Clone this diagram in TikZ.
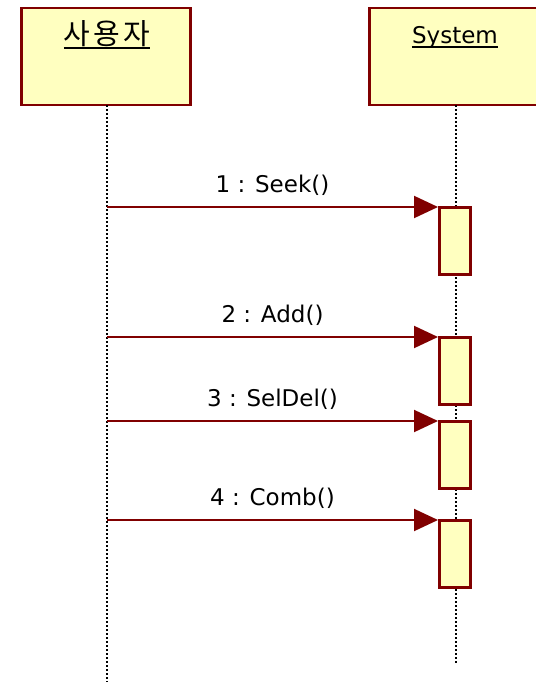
\documentclass[tikz,border=0pt]{standalone}
\usepackage{fontspec}
\setmainfont{DejaVu Sans}
\newfontfamily\krfont{Noto Sans CJK KR}
\usepackage{tikz}
\usetikzlibrary{positioning}
\usetikzlibrary{arrows.meta}
\definecolor{umlred}{RGB}{128,0,0}
\definecolor{umlfill}{RGB}{255,255,192}

\begin{document}
\begin{tikzpicture}[x=1pt,y=-1pt,line join=miter,
  objbox/.style={draw=umlred,fill=umlfill,line width=2.5pt,minimum width=169pt,minimum height=97pt,inner sep=0pt},
  actbox/.style={draw=umlred,fill=umlfill,line width=2.5pt,minimum width=31pt,minimum height=67pt,inner sep=0pt},
  objlabel/.style={font=\fontsize{23}{27}\selectfont,anchor=base,inner sep=0pt},
  lifeline/.style={line width=2pt,dash pattern=on 2pt off 2pt},
  msg/.style={color=umlred,line width=2pt,-{Triangle[length=24pt,width=22pt]}},
  msglabel/.style={font=\fontsize{23}{27}\selectfont,anchor=base,inner sep=0pt}]
\useasboundingbox (0,0) rectangle (535,682);
% objects
\node[objbox,anchor=north west] (user) at (20,7) {};
\node[objbox,anchor=north west] (sys) at (368,7) {};
\node[objlabel] (userlbl) at (107,45) {\krfont\fontsize{29}{31}\selectfont 사\hspace{3pt}용\hspace{3pt}자};
\node[objlabel] (syslbl) at (455,44) {System};
\draw[line width=1.4pt] ([yshift=-3pt]userlbl.base west) -- ([yshift=-3pt]userlbl.base east);
\draw[line width=1.4pt] ([yshift=-3pt]syslbl.base west) -- ([yshift=-3pt]syslbl.base east);
% lifelines
\coordinate (usertop) at (107,105);
\coordinate (userbot) at (107,682);
\coordinate (systop) at (456,105);
\coordinate (sysbot) at (456,663);
\draw[lifeline] (usertop) -- (userbot);
\draw[lifeline] (systop) -- (sysbot);
% activations
\node[actbox,anchor=north west] (act1) at (438,206) {};
\node[actbox,anchor=north west] (act2) at (438,336) {};
\node[actbox,anchor=north west] (act3) at (438,420) {};
\node[actbox,anchor=north west] (act4) at (438,519) {};
% messages
\coordinate (m1) at (107,207);
\coordinate (m2) at (107,337);
\coordinate (m3) at (107,421);
\coordinate (m4) at (107,520);
\draw[msg] (m1) -- (act1.west |- m1);
\draw[msg] (m2) -- (act2.west |- m2);
\draw[msg] (m3) -- (act3.west |- m3);
\draw[msg] (m4) -- (act4.west |- m4);
\node[msglabel] (lbl1) at (272.5,192) {1 : Seek()};
\node[msglabel] (lbl2) at (272.5,322) {2 : Add()};
\node[msglabel] (lbl3) at (272.5,406) {3 : SelDel()};
\node[msglabel] (lbl4) at (272.5,505) {4 : Comb()};
\end{tikzpicture}
\end{document}
